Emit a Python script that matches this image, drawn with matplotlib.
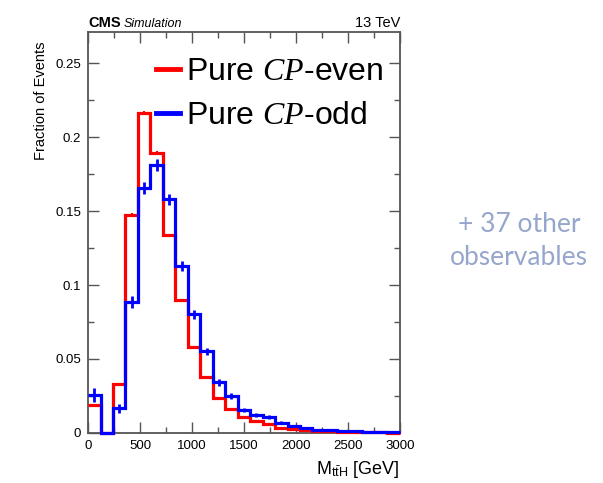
import numpy as np
import matplotlib
matplotlib.use("Agg")
import matplotlib.pyplot as plt
from matplotlib.lines import Line2D
from matplotlib.ticker import MultipleLocator

plt.rcParams['font.family'] = ['Liberation Sans', 'DejaVu Sans']
plt.rcParams['mathtext.fontset'] = 'custom'
plt.rcParams['mathtext.rm'] = 'Liberation Sans'
plt.rcParams['mathtext.it'] = 'Liberation Serif:italic'

# M_ttH binning: 25 bins of 120 GeV
edges = np.arange(0, 3001, 120)

cp_even = [0.0188, 0.0, 0.0328, 0.1474, 0.2167, 0.1896, 0.1339, 0.0898,
           0.0582, 0.0379, 0.0237, 0.0158, 0.0108, 0.0081, 0.0057, 0.0030,
           0.0023, 0.0018, 0.0012, 0.0009, 0.0006, 0.0005, 0.0003, 0.0002,
           0.0001]
cp_odd = [0.0255, 0.0, 0.0165, 0.0887, 0.1655, 0.1812, 0.1580, 0.1129,
          0.0802, 0.0550, 0.0341, 0.0248, 0.0154, 0.0120, 0.0108, 0.0068,
          0.0045, 0.0030, 0.0020, 0.0016, 0.0013, 0.0010, 0.0008, 0.0005,
          0.0003]
cp_even_err = [0.0008, 0.0, 0.0009, 0.0010, 0.0010, 0.0010, 0.0009, 0.0008,
               0.0007, 0.0006, 0.0005, 0.0004, 0.0004, 0.0003, 0.0003, 0.0002,
               0.0002, 0.0002, 0.0001, 0.0001, 0.0001, 0.0001, 0.0001, 0.0001,
               0.0001]
cp_odd_err = [0.0047, 0.0, 0.0030, 0.0040, 0.0042, 0.0040, 0.0038, 0.0033,
              0.0030, 0.0027, 0.0022, 0.0020, 0.0016, 0.0014, 0.0013, 0.0010,
              0.0008, 0.0007, 0.0006, 0.0005, 0.0005, 0.0004, 0.0004, 0.0003,
              0.0003]

centers = 0.5 * (edges[:-1] + edges[1:])
red = '#ff0000'
blue = '#0000ff'
frame = '#555555'

fig = plt.figure(figsize=(6.03, 4.83), dpi=100)
ax = fig.add_axes([0.146, 0.104, 0.517, 0.830])

ax.stairs(cp_even, edges, baseline=None, color=red, lw=2.3, zorder=3,
          clip_on=False)
ax.errorbar(centers, cp_even, yerr=cp_even_err, fmt='none', ecolor=red,
            elinewidth=1.5, zorder=3)
ax.stairs(cp_odd, edges, baseline=None, color=blue, lw=2.3, zorder=4,
          clip_on=False)
ax.errorbar(centers, cp_odd, yerr=cp_odd_err, fmt='none', ecolor=blue,
            elinewidth=2.0, zorder=4)

ax.set_xlim(0, 3000)
ax.set_ylim(0, 0.2713)

ax.xaxis.set_major_locator(MultipleLocator(500))
ax.xaxis.set_minor_locator(MultipleLocator(250))
ax.yaxis.set_major_locator(MultipleLocator(0.05))
ax.yaxis.set_minor_locator(MultipleLocator(0.025))
ax.set_yticks([0, 0.05, 0.1, 0.15, 0.2, 0.25])
ax.set_yticklabels(['0', '0.05', '0.1', '0.15', '0.2', '0.25'])
ax.tick_params(which='both', direction='in', top=True, right=True,
               color=frame, labelsize=9.5, pad=5)
ax.tick_params(which='major', length=8, width=1.0)
ax.tick_params(which='minor', length=4, width=1.0)
for s in ax.spines.values():
    s.set_color(frame)
    s.set_linewidth(1.3)

ax.set_ylabel('Fraction of Events', fontsize=10.5, loc='top')
ax.yaxis.set_label_coords(-0.13, 0.975)
ax.set_xlabel(r'M$_{\mathrm{t\bar{t}H}}$ [GeV]', fontsize=13, loc='right')
ax.xaxis.set_label_coords(1.0, -0.065)

handles = [Line2D([], [], color=red, lw=3.5), Line2D([], [], color=blue, lw=3.5)]
ax.legend(handles, [r'Pure $CP$-even', r'Pure $CP$-odd'], loc='upper right',
          bbox_to_anchor=(1.0, 0.977), fontsize=23, frameon=False,
          handlelength=0.75, handletextpad=0.2, labelspacing=0.44,
          borderaxespad=0.1)

fig.text(88 / 603, 1 - 27 / 483, 'CMS', fontsize=10.5, fontweight='bold',
         ha='left', va='baseline')
fig.text(124 / 603, 1 - 27 / 483, 'Simulation', fontsize=9, style='italic',
         ha='left', va='baseline')
fig.text(400 / 603, 1 - 27 / 483, '13 TeV', fontsize=10.5, ha='right',
         va='baseline')

note = '#97a6cc'
fig.text(519 / 603, 1 - 231.5 / 483, '+ 37 other', fontsize=19, color=note,
         family='Lato', ha='center', va='baseline')
fig.text(519 / 603, 1 - 265 / 483, 'observables', fontsize=19, color=note,
         family='Lato', ha='center', va='baseline')

fig.savefig('out.png', dpi=100)
